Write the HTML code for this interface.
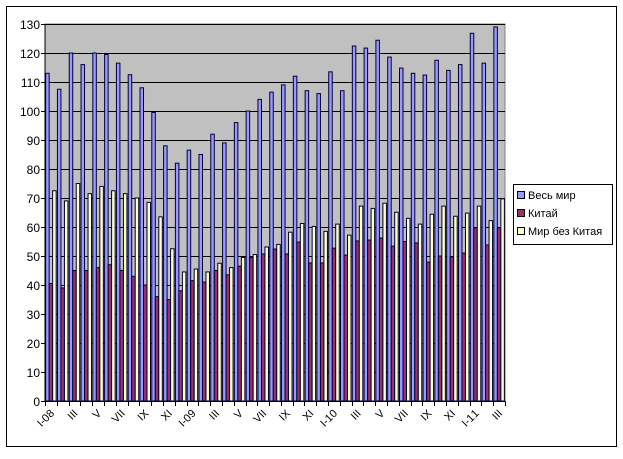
<!DOCTYPE html>
<html><head><meta charset="utf-8"><style>
html,body{margin:0;padding:0;background:#fff;}
svg text{font-family:"Liberation Sans",Arial,sans-serif;}
</style></head><body>
<svg id="s" width="623" height="454" xmlns="http://www.w3.org/2000/svg"></svg>
<script>
var A=[113,107.5,120,116,120,119.5,116.5,112.5,108,99.5,88,82,86.5,85,92,89,96,100,104,106.5,109,112,107,106,113.5,107,122.4,121.7,124.4,118.6,114.8,113,112.4,117.5,114,116,126.8,116.5,129];
var B=[40.5,39,45,45,46,47,45,43,40,36,35,38,41.5,41,45,43.5,46.5,49.5,50.7,52.4,50.7,54.8,47.6,47.6,52.7,50.3,55.2,55.5,56.2,53.4,55,54.5,47.9,50,49.7,51,59.7,53.8,59.7];
var C=[72.5,69,75,71.5,74,72.5,71.5,70,68.5,63.5,52.5,44.5,45.5,44.5,47.5,46,49.5,50.5,53.1,54,58.2,61.2,60.2,58.5,61,57.2,67.2,66.4,68.2,65.1,63,61,64.4,67.2,63.7,64.8,67.2,62.2,69.7];
var L=["I-08","III","V","VII","IX","XI","I-09","III","V","VII","IX","XI","I-10","III","V","VII","IX","XI","I-11","III"];
var x0=45,x1=505,y0=401,yt=24,n=39,gw=(x1-x0)/n,k=(y0-yt)/130;
var h='<rect x="6.5" y="6.5" width="610" height="440" fill="#fff" stroke="#000"/>';
h+='<rect x="'+x0+'" y="'+yt+'" width="'+(x1-x0)+'" height="'+(y0-yt)+'" fill="#c0c0c0" stroke="#808080"/>';
for(var v=0;v<=130;v+=10){var y=Math.round(y0-v*k)+0.5;
 if(v>0)h+='<line x1="'+x0+'" x2="'+x1+'" y1="'+y+'" y2="'+y+'" stroke="#000"/>';
 h+='<line x1="'+(x0-4)+'" x2="'+x0+'" y1="'+y+'" y2="'+y+'" stroke="#000"/>';
 h+='<text x="40" y="'+(y+4.5)+'" font-size="12" text-anchor="end">'+v+'</text>';}
var bw=3.5,off=0.65;
function bar(x,val,f){var t=y0-val*k;return '<rect x="'+x.toFixed(2)+'" y="'+t.toFixed(2)+'" width="'+bw+'" height="'+(y0-t).toFixed(2)+'" fill="'+f+'" stroke="#000033" stroke-width="1"/>';}
for(var i=0;i<n;i++){var gx=x0+i*gw+off;
 h+=bar(gx,A[i],"#9999ff")+bar(gx+bw,B[i],"#993366")+bar(gx+2*bw,C[i],"#ffffcc");}
h+='<line x1="'+x0+'" x2="'+x0+'" y1="'+yt+'" y2="'+y0+'" stroke="#000"/>';
h+='<line x1="'+x0+'" x2="'+x1+'" y1="'+(y0+0.5)+'" y2="'+(y0+0.5)+'" stroke="#000"/>';
for(var i=0;i<=n;i++){var x=Math.round(x0+i*gw)+0.5;h+='<line x1="'+x+'" x2="'+x+'" y1="'+y0+'" y2="'+(y0+5)+'" stroke="#000"/>';}
var W={"I":3.06,"-":3.66,"V":7.34,"X":7.34};
var c=0.7071;
for(var j=0;j<L.length;j++){var s=L[j],ex=x0+(2*j+0.5)*gw+4,ey=414;
 var tot=0,ws=[];for(var q=0;q<s.length;q++){var w=W[s[q]]||6.12;ws.push(w);tot+=w;}
 var sx=ex-tot*c,sy=ey+tot*c,xs=[],ys=[],rs=[],cum=0;
 for(var q=0;q<s.length;q++){xs.push((sx+cum*c).toFixed(1));ys.push((sy-cum*c).toFixed(1));rs.push(-45);cum+=ws[q];}
 h+='<text font-size="11" x="'+xs.join(" ")+'" y="'+ys.join(" ")+'" rotate="'+rs.join(" ")+'">'+s+'</text>';}
h+='<rect x="513.5" y="184.5" width="99" height="60" fill="#fff" stroke="#000"/>';
var lg=[["#9999ff","Весь мир"],["#993366","Китай"],["#ffffcc","Мир без Китая"]];
for(var j=0;j<3;j++){var y=191+j*18;
 h+='<rect x="517.5" y="'+(y+0.5)+'" width="7" height="7" fill="'+lg[j][0]+'" stroke="#000"/>';
 h+='<text x="528" y="'+(y+8)+'" font-size="11">'+lg[j][1]+'</text>';}
document.getElementById('s').innerHTML=h;
</script>
</body></html>
